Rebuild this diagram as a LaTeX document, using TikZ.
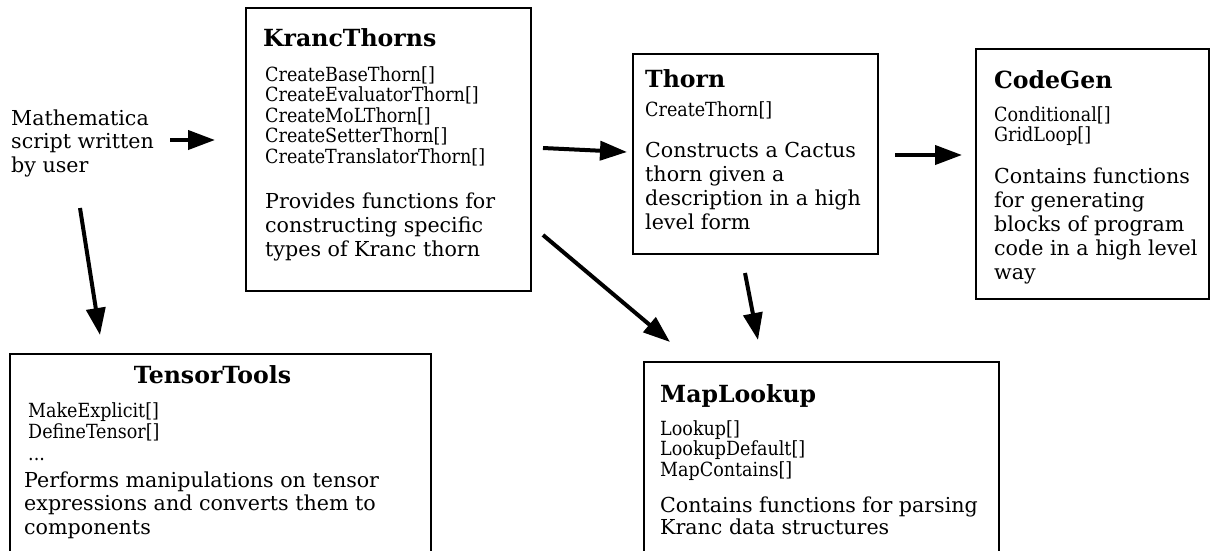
\documentclass[tikz,border=0pt]{standalone}
\usepackage{fontspec}
\setmainfont{DejaVu Serif}
\IfFontExistsTF{DejaVu Serif Condensed}{\newfontfamily\fnfont{DejaVu Serif Condensed}}{\newfontfamily\fnfont{DejaVu Serif}[FakeStretch=0.88]}
\usetikzlibrary{arrows.meta}
\newcommand\blk[2]{\vtop{\baselineskip=#1\relax\lineskiplimit=-100pt\lineskip=0pt #2}}
\tikzset{
  modbox/.style={draw, line width=2.2pt, rectangle, inner sep=0pt, anchor=north west},
  ttl/.style={anchor=base west, inner sep=0pt, font=\fontsize{23.6}{27}\selectfont\bfseries},
  fns/.style={anchor=base west, inner sep=0pt, font=\fnfont\fontsize{19.5}{20.5}\selectfont},
  desc/.style={anchor=base west, inner sep=0pt, font=\fontsize{20.6}{24}\selectfont},
  arr/.style={line width=4pt, -{Triangle[length=27pt,width=19pt]}}
}
\begin{document}
\begin{tikzpicture}[x=1pt,y=-1pt]
\useasboundingbox (0,0) rectangle (1211,550);
\clip (0,0) rectangle (1211,550);
% boxes
\node[modbox, minimum width=285pt, minimum height=283pt] (kt) at (245,7) {};
\node[modbox, minimum width=245pt, minimum height=200pt] (th) at (632,53) {};
\node[modbox, minimum width=233pt, minimum height=250pt] (cg) at (975,48) {};
\node[modbox, minimum width=421pt, minimum height=220pt] (tt) at (9,353) {};
\node[modbox, minimum width=355pt, minimum height=210pt] (ml) at (643,361) {};
% user text
\node[desc] (user) at (11,125) {\blk{23.5pt}{\hbox{Mathematica}\hbox{script written}\hbox{by user}}};
% KrancThorns
\node[ttl] (ktt) at (263,46) {KrancThorns};
\node[fns] (ktf) at (265,81) {\blk{20.5pt}{\hbox{CreateBaseThorn[]}\hbox{CreateEvaluatorThorn[]}\hbox{CreateMoLThorn[]}\hbox{CreateSetterThorn[]}\hbox{CreateTranslatorThorn[]}}};
\node[desc] (ktd) at (265,208) {\blk{24pt}{\hbox{Provides functions for}\hbox{constructing specific}\hbox{types of Kranc thorn}}};
% Thorn
\node[ttl] (tht) at (645,87) {Thorn};
\node[fns] (thf) at (645,116) {CreateThorn[]};
\node[desc] (thd) at (645,157) {\blk{24pt}{\hbox{Constructs a Cactus}\hbox{thorn given a}\hbox{description in a high}\hbox{level form}}};
% CodeGen
\node[ttl] (cgt) at (994,88) {CodeGen};
\node[fns] (cgf) at (994,121) {\blk{20.5pt}{\hbox{Conditional[]}\hbox{GridLoop[]}}};
\node[desc] (cgd) at (994,183) {\blk{24pt}{\hbox{Contains functions}\hbox{for generating}\hbox{blocks of program}\hbox{code in a high level}\hbox{way}}};
% TensorTools
\node[ttl, anchor=base] (ttt) at (212.5,383) {TensorTools};
\node[fns] (ttf) at (28,417) {\blk{21.5pt}{\hbox{MakeExplicit[]}\hbox{DefineTensor[]}\hbox{...}}};
\node[desc] (ttd) at (24,487) {\blk{23.5pt}{\hbox{Performs manipulations on tensor}\hbox{expressions and converts them to}\hbox{components}}};
% MapLookup
\node[ttl] (mlt) at (660,402) {MapLookup};
\node[fns] (mlf) at (660,435) {\blk{20.5pt}{\hbox{Lookup[]}\hbox{LookupDefault[]}\hbox{MapContains[]}}};
\node[desc] (mld) at (660,512) {\blk{22.5pt}{\hbox{Contains functions for parsing}\hbox{Kranc data structures}}};
% arrow end points
\coordinate (a1s) at (170,140); \coordinate (a1e) at (215,140);
\coordinate (a2s) at (80,208);  \coordinate (a2e) at (100,335);
\coordinate (a3s) at (543,148); \coordinate (a3e) at (627,152);
\coordinate (a4s) at (543,235); \coordinate (a4e) at (670,342);
\coordinate (a5s) at (745,273); \coordinate (a5e) at (758,340);
\coordinate (a6s) at (895,155); \coordinate (a6e) at (962,155);
\draw[arr] (a1s) -- (a1e);
\draw[arr] (a2s) -- (a2e);
\draw[arr] (a3s) -- (a3e);
\draw[arr] (a4s) -- (a4e);
\draw[arr] (a5s) -- (a5e);
\draw[arr] (a6s) -- (a6e);
\end{tikzpicture}
\end{document}
